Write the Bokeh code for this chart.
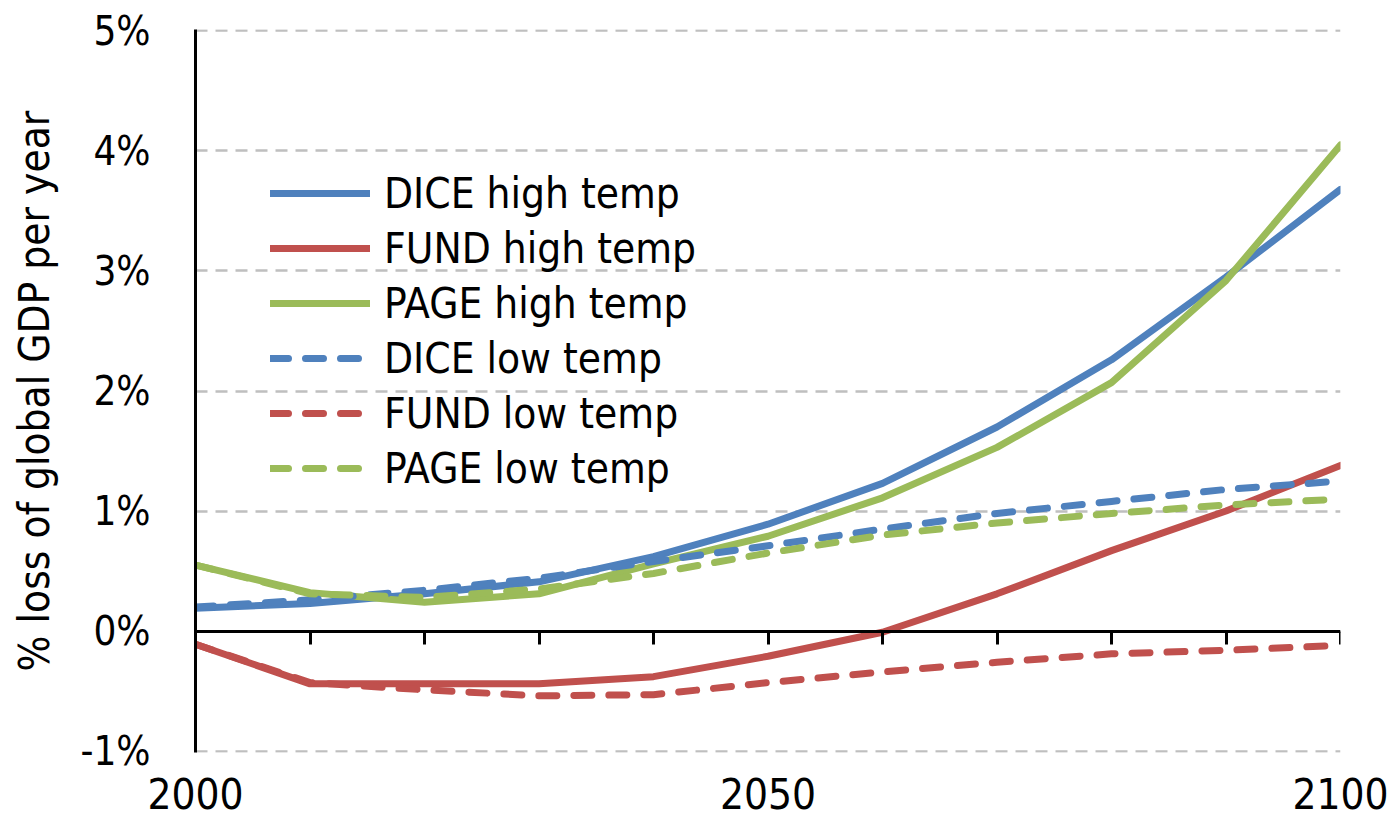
from bokeh.plotting import figure
from bokeh.models import (LinearAxis, FixedTicker, PrintfTickFormatter, Legend,
                          LegendItem, Range1d)
from bokeh.embed import file_html
from bokeh.resources import INLINE

# ---- data ----
years = [2000, 2010, 2020, 2030, 2040, 2050, 2060, 2070, 2080, 2090, 2100]
dice_high = [0.19, 0.23, 0.31, 0.41, 0.62, 0.89, 1.23, 1.70, 2.26, 2.95, 3.68]
fund_high = [-0.11, -0.44, -0.44, -0.44, -0.38, -0.21, -0.01, 0.31, 0.67, 1.00, 1.38]
page_high = [0.55, 0.32, 0.24, 0.31, 0.56, 0.79, 1.11, 1.53, 2.07, 2.92, 4.05]
dice_low = [0.20, 0.26, 0.34, 0.44, 0.58, 0.71, 0.85, 0.98, 1.08, 1.18, 1.25]
fund_low = [-0.11, -0.43, -0.49, -0.54, -0.53, -0.43, -0.34, -0.26, -0.19, -0.16, -0.12]
page_low = [0.55, 0.31, 0.28, 0.35, 0.48, 0.65, 0.80, 0.90, 0.98, 1.05, 1.10]

series_names = ["DICE high temp", "FUND high temp", "PAGE high temp",
                "DICE low temp", "FUND low temp", "PAGE low temp"]
x_label_ticks = [2000, 2050, 2100]
y_ticks = [-1, 0, 1, 2, 3, 4, 5]
grid_ticks = [-1, 1, 2, 3, 4, 5]
y_label = "% loss of global GDP per year"

BLUE, RED, GREEN = "#4F81BD", "#C0504D", "#9BBB59"
FONT = "'Liberation Sans Narrow', 'Arial Narrow', 'DejaVu Sans Condensed', sans-serif"

p = figure(frame_width=1145, frame_height=723, output_backend="svg",
           toolbar_location=None,
           x_range=Range1d(2000, 2100), y_range=Range1d(-1.012, 5.012),
           min_border_left=195, min_border_right=54, min_border_top=29,
           min_border_bottom=78)
p.outline_line_color = None
p.background_fill_color = "white"
p.border_fill_color = "white"

# y axis
yax = p.yaxis[0]
yax.ticker = FixedTicker(ticks=y_ticks)
yax.formatter = PrintfTickFormatter(format="%d%%")
yax.axis_line_width = 3
yax.axis_line_color = "black"
yax.major_tick_line_color = None
yax.minor_tick_line_color = None
yax.major_label_text_font = FONT
yax.major_label_text_font_size = "40px"
yax.major_label_text_color = "black"
yax.major_label_standoff = 39
yax.axis_label = y_label
yax.axis_label_text_font = FONT
yax.axis_label_text_font_size = "42px"
yax.axis_label_text_font_style = "normal"
yax.axis_label_text_color = "black"
yax.axis_label_standoff = 18

# x axis crossing at zero: line + ticks only
xax = p.xaxis[0]
xax.fixed_location = 0
xax.ticker = FixedTicker(ticks=years)
xax.axis_line_width = 3
xax.axis_line_color = "black"
xax.major_tick_line_width = 3
xax.major_tick_line_color = "black"
xax.major_tick_out = 13
xax.major_tick_in = 0
xax.minor_tick_line_color = None
xax.major_label_text_font_size = "0px"
xax.major_label_text_alpha = 0
xax.major_label_standoff = 0

# x labels at bottom
xlab = LinearAxis(ticker=FixedTicker(ticks=x_label_ticks))
xlab.axis_line_color = None
xlab.major_tick_line_color = None
xlab.minor_tick_line_color = None
xlab.major_label_text_font = FONT
xlab.major_label_text_font_size = "42px"
xlab.major_label_text_color = "black"
xlab.major_label_standoff = 19
p.add_layout(xlab, "below")

# grid
p.xgrid.grid_line_color = None
p.ygrid.ticker = FixedTicker(ticks=grid_ticks)
p.ygrid.grid_line_color = "#BFBFBF"
p.ygrid.grid_line_width = 2.5
p.ygrid.grid_line_dash = "12 8"

data = [dice_high, fund_high, page_high, dice_low, fund_low, page_low]
colors = [BLUE, RED, GREEN, BLUE, RED, GREEN]
dashes = ["solid", "solid", "solid", "18 17", "18 17", "18 17"]

items = []
for name, ys, c, d in zip(series_names, data, colors, dashes):
    r = p.line(years, ys, line_color=c, line_width=7, line_dash=d,
               line_cap="round", line_join="round")
    items.append(LegendItem(label=name, renderers=[r]))

legend = Legend(items=items, location=(75, 259))
legend.background_fill_alpha = 0
legend.border_line_color = None
legend.padding = 0
legend.margin = 0
legend.spacing = 5
legend.glyph_width = 100
legend.glyph_height = 50
legend.label_height = 50
legend.label_standoff = 14
legend.label_text_font = FONT
legend.label_text_font_size = "42px"
legend.label_text_color = "black"
p.add_layout(legend, "center")

open("out.html", "w").write(file_html(p, INLINE))
